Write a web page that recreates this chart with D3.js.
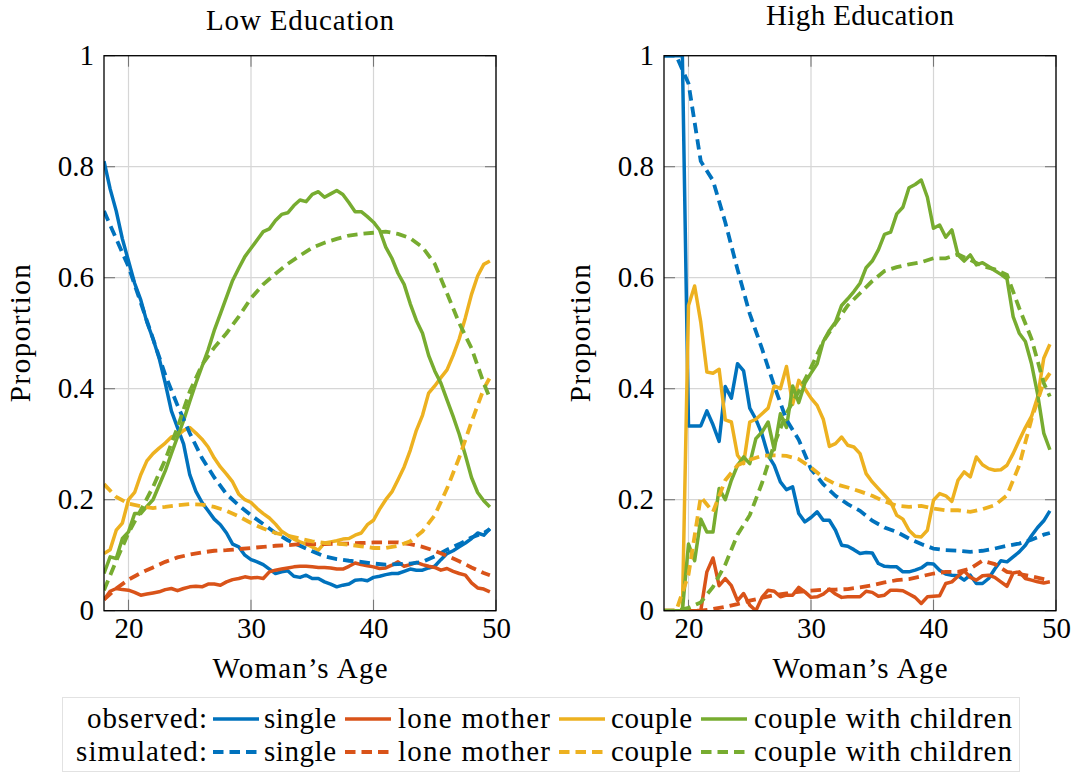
<!DOCTYPE html>
<html><head><meta charset="utf-8">
<script src="https://cdn.jsdelivr.net/npm/d3@7"></script>
<style>
body{margin:0;background:#fff}
svg{display:block}
</style>
</head><body>
<svg id="chart" width="1075" height="773"></svg>
<script>
// ---------- data ----------
const obsAges = [18,18.5,19,19.5,20,20.5,21,21.5,22,22.5,23,23.5,24,24.5,25,25.5,
  26,26.5,27,27.5,28,28.5,29,29.5,30,30.5,31,31.5,32,32.5,33,33.5,
  34,34.5,35,35.5,36,36.5,37,37.5,38,38.5,39,39.5,40,40.5,41,41.5,
  42,42.5,43,43.5,44,44.5,45,45.5,46,46.5,47,47.5,48,48.5,49,49.5];
const simAges = [18,19,20,21,22,23,24,25,26,27,28,29,30,31,32,33,34,35,36,37,38,39,40,41,42,43,44,45,46,47,48,49,49.5];

// Low education - observed
const lowObsSingle = [.81,.76,.72,.67,.63,.59,.56,.52, .49,.455,.41,.36,.33,.30,.245,.215,
  .195,.18,.165,.155,.14,.12,.115,.10, .092,.088,.083,.075,.067,.07,.072,.062,
  .06,.064,.058,.058,.052,.048,.043,.046, .048,.055,.056,.054,.06,.062,.065,.067,
  .067,.071,.075,.073,.073,.077,.08,.092, .103,.108,.115,.122,.13,.14,.136,.148];
const lowObsLone = [.02,.035,.04,.038,.037,.033,.028,.03, .032,.034,.038,.04,.036,.04,.043,.044,
  .043,.048,.048,.046,.052,.056,.058,.061, .059,.06,.058,.07,.073,.075,.077,.079,
  .08,.08,.079,.078,.078,.077,.075,.075, .08,.086,.083,.081,.079,.076,.077,.082,
  .088,.08,.083,.087,.083,.08,.078,.073, .076,.071,.067,.064,.05,.041,.039,.034];
const lowObsCouple = [.103,.11,.145,.158,.2,.213,.245,.27, .283,.293,.302,.313,.316,.325,.33,.32,
  .309,.295,.275,.259,.246,.232,.21,.2, .195,.184,.175,.167,.156,.143,.136,.129,
  .124,.12,.115,.109,.122,.124,.126,.129, .13,.136,.14,.155,.163,.183,.2,.214,
  .236,.259,.289,.325,.352,.392,.405,.42, .434,.46,.49,.528,.57,.603,.624,.63];
const lowObsCwc = [.067,.097,.094,.13,.142,.175,.175,.188, .2,.226,.252,.283,.313,.343,.377,.41,
  .44,.47,.505,.535,.565,.595,.617,.638, .653,.668,.683,.688,.703,.714,.717,.73,
  .74,.737,.75,.755,.745,.751,.757,.75, .735,.719,.719,.71,.7,.686,.655,.635,
  .608,.588,.553,.523,.5,.46,.432,.41, .38,.35,.318,.28,.24,.213,.198,.187];
// Low education - simulated
const lowSimSingle = [.72,.67,.62,.555,.49,.425,.37,.32,.275,.24,.21,.19,.172,.156,.14,.127,.117,.107,.098,.093,.09,.088,.085,.083,.084,.085,.088,.098,.11,.12,.132,.14,.147];
const lowSimLone = [.02,.04,.056,.068,.078,.088,.096,.101,.105,.108,.109,.111,.113,.115,.117,.118,.12,.12,.12,.121,.121,.122,.123,.123,.123,.12,.115,.108,.099,.089,.078,.068,.064];
const lowSimCouple = [.228,.205,.193,.188,.185,.187,.19,.192,.191,.187,.18,.17,.158,.148,.14,.135,.13,.125,.122,.121,.119,.116,.113,.113,.117,.125,.143,.172,.22,.276,.34,.4,.42];
const lowSimCwc = [.037,.09,.14,.181,.223,.272,.33,.395,.443,.474,.5,.53,.563,.588,.607,.625,.64,.654,.663,.67,.676,.679,.681,.683,.679,.671,.655,.625,.572,.518,.473,.41,.383];

// High education - observed
const highObsSingle = [1,1,1,1,.333,.333,.333,.36, .335,.305,.404,.383,.445,.432,.365,.345,
  .318,.28,.262,.232,.218,.223,.175,.16, .168,.178,.163,.163,.145,.118,.116,.11,
  .103,.105,.104,.085,.08,.079,.079,.07, .07,.073,.077,.085,.084,.073,.066,.064,
  .063,.055,.064,.049,.049,.058,.075,.09, .088,.097,.106,.118,.135,.15,.162,.18];
const highObsLone = [0,0,0,0,0,0,0,.07, .095,.045,.058,.045,.018,.031,.01,0,
  .024,.037,.035,.025,.028,.028,.042,.034, .024,.025,.03,.039,.03,.024,.025,.025,
  .025,.035,.033,.026,.028,.037,.037,.036, .03,.024,.013,.025,.026,.027,.049,.052,
  .062,.072,.06,.055,.063,.064,.06,.052, .044,.068,.07,.058,.055,.052,.05,.052];
const highObsCouple = [0,0,0,0,.55,.585,.52,.43, .428,.435,.344,.34,.28,.265,.34,.345,
  .355,.365,.405,.4,.44,.372,.415,.4, .383,.37,.345,.296,.301,.313,.298,.295,
  .283,.247,.232,.22,.208,.196,.172,.165, .145,.134,.133,.145,.199,.211,.207,.197,
  .235,.25,.241,.277,.263,.256,.253,.254, .262,.283,.307,.33,.35,.385,.455,.48];
const highObsCwc = [0,0,0,0,.12,.09,.165,.142, .142,.22,.2,.235,.262,.277,.265,.31,
  .322,.34,.29,.355,.33,.405,.375,.41, .428,.445,.485,.505,.52,.55,.562,.575,
  .59,.618,.63,.65,.678,.682,.715,.727, .762,.768,.776,.745,.689,.695,.673,.686,
  .641,.63,.641,.623,.627,.62,.613,.606, .598,.53,.5,.485,.445,.39,.32,.29];
// High education - simulated
const highSimSingle = [1,1,.95,.81,.775,.7,.615,.535,.472,.405,.344,.308,.255,.228,.207,.192,.18,.162,.15,.142,.13,.12,.112,.109,.108,.106,.108,.112,.117,.121,.128,.137,.14];
const highSimLone = [0,0,0,0,.003,.007,.012,.018,.023,.028,.031,.034,.036,.038,.038,.039,.042,.046,.051,.055,.057,.062,.067,.07,.07,.076,.09,.084,.07,.066,.062,.057,.055];
const highSimCouple = [0,0,.065,.205,.178,.235,.262,.272,.279,.28,.279,.273,.258,.24,.228,.222,.215,.207,.197,.189,.187,.189,.184,.181,.181,.178,.183,.19,.208,.262,.345,.412,.428];
const highSimCwc = [0,0,.005,.015,.043,.083,.137,.172,.23,.3,.356,.395,.438,.485,.518,.55,.572,.594,.612,.619,.624,.628,.635,.635,.642,.632,.621,.615,.605,.545,.49,.41,.386];

const categories = ["single","lone mother","couple","couple with children"];
const seriesColors = ["#0072BD","#D95319","#EDB120","#77AC30"];
const panelTitles = ["Low Education","High Education"];
const xTicks = [20,30,40,50];
const yTicks = [0,0.2,0.4,0.6,0.8,1];
const yTickLabels = ["0","0.2","0.4","0.6","0.8","1"];
const legendRows = ["observed:","simulated:"];

// ---------- layout ----------
const FONT = "'Liberation Serif'";
const FS = 29;
const W = 392, TOP = 55.7, BOT = 610.7;
const panels = [
  {left:104, title:panelTitles[0], titleY:30,
   obs:[lowObsSingle,lowObsLone,lowObsCouple,lowObsCwc],
   sim:[lowSimSingle,lowSimLone,lowSimCouple,lowSimCwc]},
  {left:664, title:panelTitles[1], titleY:25,
   obs:[highObsSingle,highObsLone,highObsCouple,highObsCwc],
   sim:[highSimSingle,highSimLone,highSimCouple,highSimCwc]}
];
const DASH = "10.5,6";
const LW = 3.5;
const LWD = 3.8;

const svg = d3.select("#chart");
svg.append("rect").attr("width",1075).attr("height",773).attr("fill","#fff");

const x = d3.scaleLinear().domain([18,50]).range([0,W]);
const y = d3.scaleLinear().domain([0,1]).range([BOT,TOP]);

function txt(sel){ return sel.attr("font-family",FONT).attr("font-size",FS).attr("fill","#000"); }

panels.forEach((p,pi)=>{
  const g = svg.append("g").attr("transform",`translate(${p.left},0)`);
  g.selectAll(".gx").data(xTicks).enter().append("line")
    .attr("x1",d=>x(d)).attr("x2",d=>x(d)).attr("y1",TOP).attr("y2",BOT)
    .attr("stroke","#d6d6d6").attr("stroke-width",1.2);
  g.selectAll(".gy").data(yTicks).enter().append("line")
    .attr("y1",d=>y(d)).attr("y2",d=>y(d)).attr("x1",0).attr("x2",W)
    .attr("stroke","#d6d6d6").attr("stroke-width",1.2);
  const TL = 11;
  xTicks.forEach(t=>{
    g.append("line").attr("x1",x(t)).attr("x2",x(t)).attr("y1",BOT).attr("y2",BOT-TL).attr("stroke","#777").attr("stroke-width",1.1);
    g.append("line").attr("x1",x(t)).attr("x2",x(t)).attr("y1",TOP).attr("y2",TOP+TL).attr("stroke","#777").attr("stroke-width",1.1);
  });
  yTicks.forEach(t=>{
    g.append("line").attr("x1",0).attr("x2",TL).attr("y1",y(t)).attr("y2",y(t)).attr("stroke","#777").attr("stroke-width",1.1);
    g.append("line").attr("x1",W-TL).attr("x2",W).attr("y1",y(t)).attr("y2",y(t)).attr("stroke","#777").attr("stroke-width",1.1);
  });

  const cid = "clip"+pi;
  svg.append("clipPath").attr("id",cid).append("rect")
    .attr("x",0).attr("y",TOP).attr("width",W).attr("height",BOT-TOP);
  const lg = g.append("g").attr("clip-path",`url(#${cid})`);
  const lineGen = d3.line().x(d=>x(d[0])).y(d=>y(d[1]));
  p.obs.forEach((vals,i)=>{
    lg.append("path").datum(obsAges.map((a,k)=>[a,vals[k]]))
      .attr("d",lineGen).attr("fill","none").attr("stroke",seriesColors[i])
      .attr("stroke-width",LW).attr("stroke-linejoin","round");
  });
  p.sim.forEach((vals,i)=>{
    lg.append("path").datum(simAges.map((a,k)=>[a,vals[k]]))
      .attr("d",lineGen).attr("fill","none").attr("stroke",seriesColors[i])
      .attr("stroke-width",LWD).attr("stroke-dasharray",DASH);
  });

  g.append("rect").attr("x",0).attr("y",TOP).attr("width",W).attr("height",BOT-TOP)
    .attr("fill","none").attr("stroke","#000").attr("stroke-width",1.3);

  const ax = g.append("g").attr("transform",`translate(0,${BOT})`)
    .call(d3.axisBottom(x).tickValues(xTicks).tickSize(0).tickPadding(7).tickFormat(d3.format("d")));
  const ay = g.append("g")
    .call(d3.axisLeft(y).tickValues(yTicks).tickSize(0).tickPadding(10).tickFormat((d,i)=>yTickLabels[i]));
  [ax,ay].forEach(a=>{
    a.attr("font-family",FONT).attr("font-size",FS);
    a.select(".domain").remove();
    txt(a.selectAll("text"));
  });

  txt(g.append("text")).attr("x",W/2).attr("y",p.titleY).attr("text-anchor","middle")
    .attr("textLength",188).attr("lengthAdjust","spacing").text(p.title);
  txt(g.append("text")).attr("x",W/2).attr("y",678).attr("text-anchor","middle")
    .attr("textLength",175).attr("lengthAdjust","spacing").text("Woman’s Age");
  txt(g.append("text")).attr("transform",`translate(-74,${(TOP+BOT)/2}) rotate(-90)`)
    .attr("text-anchor","middle").attr("textLength",138).attr("lengthAdjust","spacing").text("Proportion");
});

// ---------- legend ----------
const leg = svg.append("g");
leg.append("rect").attr("x",62.5).attr("y",697.5).attr("width",957).attr("height",74)
  .attr("fill","#fff").attr("stroke","#e2e2e2").attr("stroke-width",1);
const rowBase = [728,761];
const labelLen = [120,131];
const sampleX = [[213,259],[345,391],[559,605],[701,747]];
const textX = [264,398,611,754];
const textLen = [72,152,81,258];
legendRows.forEach((r,ri)=>{
  const by = rowBase[ri];
  txt(leg.append("text")).attr("x",207).attr("y",by).attr("text-anchor","end")
    .attr("textLength",labelLen[ri]).attr("lengthAdjust","spacing").text(r);
  categories.forEach((c,ci)=>{
    leg.append("line").attr("x1",sampleX[ci][0]).attr("x2",sampleX[ci][1])
      .attr("y1",by-9).attr("y2",by-9).attr("stroke",seriesColors[ci]).attr("stroke-width",ri===1?LWD:LW)
      .attr("stroke-dasharray",ri===1?DASH:null);
    txt(leg.append("text")).attr("x",textX[ci]).attr("y",by)
      .attr("textLength",textLen[ci]).attr("lengthAdjust","spacing").text(c);
  });
});
</script>
</body></html>
